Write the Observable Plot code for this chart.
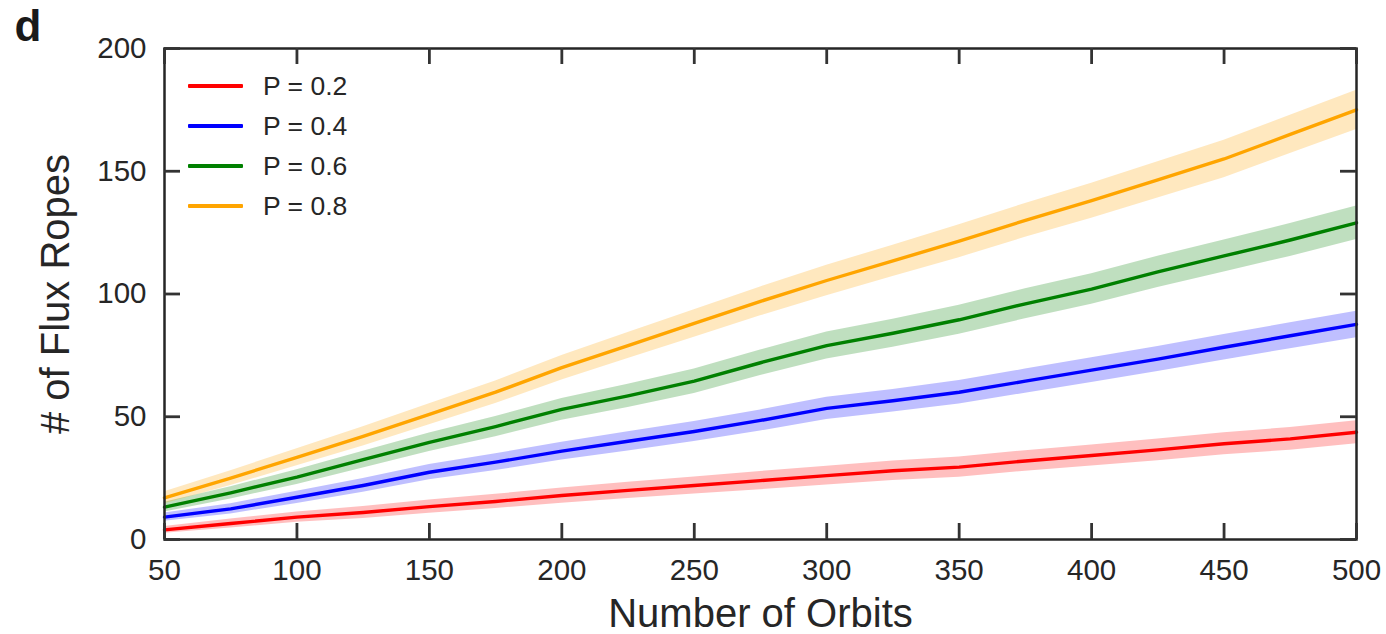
<!DOCTYPE html>
<html>
<head>
<meta charset="utf-8">
<script src="https://cdn.jsdelivr.net/npm/d3@7"></script>
<script src="https://cdn.jsdelivr.net/npm/@observablehq/plot@0.6"></script>
<style>
  html, body { margin: 0; padding: 0; background: #fff; }
  #wrap { position: relative; width: 1386px; height: 634px; font-family: "Liberation Sans", Arial, sans-serif; }
  #legend { position: absolute; left: 188px; top: 66px; color: #262626; font-size: 26.5px; }
  .row { display: flex; align-items: center; height: 40px; }
  .sw { width: 55px; height: 3.5px; margin-right: 20px; border-radius: 1px; }
</style>
</head>
<body>
<div id="wrap"><div id="legend"></div></div>
<script>
// Data
const orbits = [50, 75, 100, 125, 150, 175, 200, 225, 250, 275, 300, 325, 350, 375, 400, 425, 450, 475, 500];
const seriesNames = ["P = 0.2", "P = 0.4", "P = 0.6", "P = 0.8"];
const seriesColors = ["#ff0000", "#0000ff", "#008000", "#ffa500"];
const meanP02 = [3.9, 6.5, 9.1, 11, 13.4, 15.5, 17.9, 20, 22, 24, 26, 28, 29.5, 32, 34.2, 36.5, 39, 41, 43.7];
const meanP04 = [9.1, 12.5, 17.2, 22, 27.4, 31.5, 36, 40, 44, 48.5, 53.4, 56.5, 60, 64.5, 69, 73.5, 78.3, 83, 87.6];
const meanP06 = [13.2, 19, 25.4, 32.5, 39.6, 46, 53, 58.5, 64.5, 72, 79, 84, 89.5, 96, 102, 109, 115.5, 122, 129];
const meanP08 = [17, 25, 33.5, 42, 51, 60, 70, 79, 88, 97, 105.5, 113.5, 121.5, 130, 138, 146.5, 155, 165, 175];
const spreadP02 = [1.4, 1.8, 2.1, 2.4, 2.7, 2.9, 3.1, 3.3, 3.5, 3.7, 3.8, 4, 4.1, 4.2, 4.3, 4.4, 4.5, 4.6, 4.7];
const spreadP04 = [1.7, 2.1, 2.5, 2.8, 3.1, 3.4, 3.6, 3.9, 4.1, 4.3, 4.5, 4.6, 4.8, 4.9, 5, 5.1, 5.2, 5.3, 5.4];
const spreadP06 = [2, 2.5, 3, 3.4, 3.8, 4.1, 4.4, 4.7, 5, 5.2, 5.5, 5.7, 5.9, 6.1, 6.2, 6.4, 6.5, 6.7, 6.8];
const spreadP08 = [2.4, 3, 3.5, 3.9, 4.3, 4.6, 5, 5.3, 5.6, 5.9, 6.2, 6.4, 6.7, 6.9, 7.1, 7.4, 7.6, 7.8, 8];
const xTicks = [50, 100, 150, 200, 250, 300, 350, 400, 450, 500];
const yTicks = [0, 50, 100, 150, 200];
const xLabel = "Number of Orbits";
const yLabel = "# of Flux Ropes";
const panelLabel = "d";

const means = [meanP02, meanP04, meanP06, meanP08];
const spreads = [spreadP02, spreadP04, spreadP06, spreadP08];
const rows = [];
seriesNames.forEach((name, s) => {
  orbits.forEach((o, i) => {
    rows.push({series: name, orbit: o, mean: means[s][i], lo: means[s][i] - spreads[s][i], hi: means[s][i] + spreads[s][i]});
  });
});

const W = 1386, H = 634, mL = 164, mR = 30, mT = 48, mB = 95;
const innerW = W - mL - mR, innerH = H - mT - mB;
const ink = "#262626";
const tickInk = "#333333";
const font = "'Liberation Sans', Arial, sans-serif";
const TK = 16; // inward tick length (px)
const xMin = 50, xMax = 500, yMin = 0, yMax = 200;

const chart = Plot.plot({
  width: W, height: H,
  marginLeft: mL, marginRight: mR, marginTop: mT, marginBottom: mB,
  style: {fontFamily: font, color: ink, background: "white"},
  x: {domain: [xMin, xMax]},
  y: {domain: [yMin, yMax]},
  color: {domain: seriesNames, range: seriesColors},
  marks: [
    Plot.areaY(rows, {x: "orbit", y1: "lo", y2: "hi", z: "series", fill: "series", fillOpacity: 0.25}),
    Plot.lineY(rows, {x: "orbit", y: "mean", z: "series", stroke: "series", strokeWidth: 3.4}),
    Plot.frame({stroke: ink, strokeWidth: 2.5}),
    // inward ticks on all four sides (drawn above the frame)
    Plot.tickX(xTicks, {x: d => d, stroke: tickInk, strokeWidth: 2.8, insetTop: innerH - TK}),
    Plot.tickX(xTicks, {x: d => d, stroke: tickInk, strokeWidth: 2.8, insetBottom: innerH - TK}),
    Plot.ruleY(yTicks, {y: d => d, stroke: tickInk, strokeWidth: 2.8, insetRight: innerW - TK}),
    Plot.ruleY(yTicks, {y: d => d, stroke: tickInk, strokeWidth: 2.8, insetLeft: innerW - TK}),
    // tick labels
    Plot.axisX({anchor: "bottom", ticks: xTicks, tickSize: 0, tickPadding: 20, fontSize: 29.5, label: null, tickFormat: d => String(d)}),
    Plot.axisY({anchor: "left", ticks: yTicks, tickSize: 0, tickPadding: 18, fontSize: 29.5, label: null, tickFormat: d => String(d)}),
    Plot.text([xLabel], {text: d => d, frameAnchor: "bottom", dy: 75, fontSize: 40, fill: ink, textAnchor: "middle", lineAnchor: "middle"}),
    Plot.text([yLabel], {text: d => d, frameAnchor: "left", dx: -108, rotate: -90, fontSize: 40, fill: ink, textAnchor: "middle", lineAnchor: "middle"}),
    Plot.text([panelLabel], {text: d => d, frameAnchor: "top-left", dx: 14 - mL, dy: 9 - mT, fontSize: 44, fontWeight: "bold", fill: "#1a1a1a", textAnchor: "start", lineAnchor: "top"})
  ]
});
document.getElementById("wrap").prepend(chart);

const legend = document.getElementById("legend");
seriesNames.forEach((name, i) => {
  const row = document.createElement("div");
  row.className = "row";
  const sw = document.createElement("div");
  sw.className = "sw";
  sw.style.background = seriesColors[i];
  const t = document.createElement("span");
  t.textContent = name;
  row.appendChild(sw);
  row.appendChild(t);
  legend.appendChild(row);
});
</script>
</body>
</html>
